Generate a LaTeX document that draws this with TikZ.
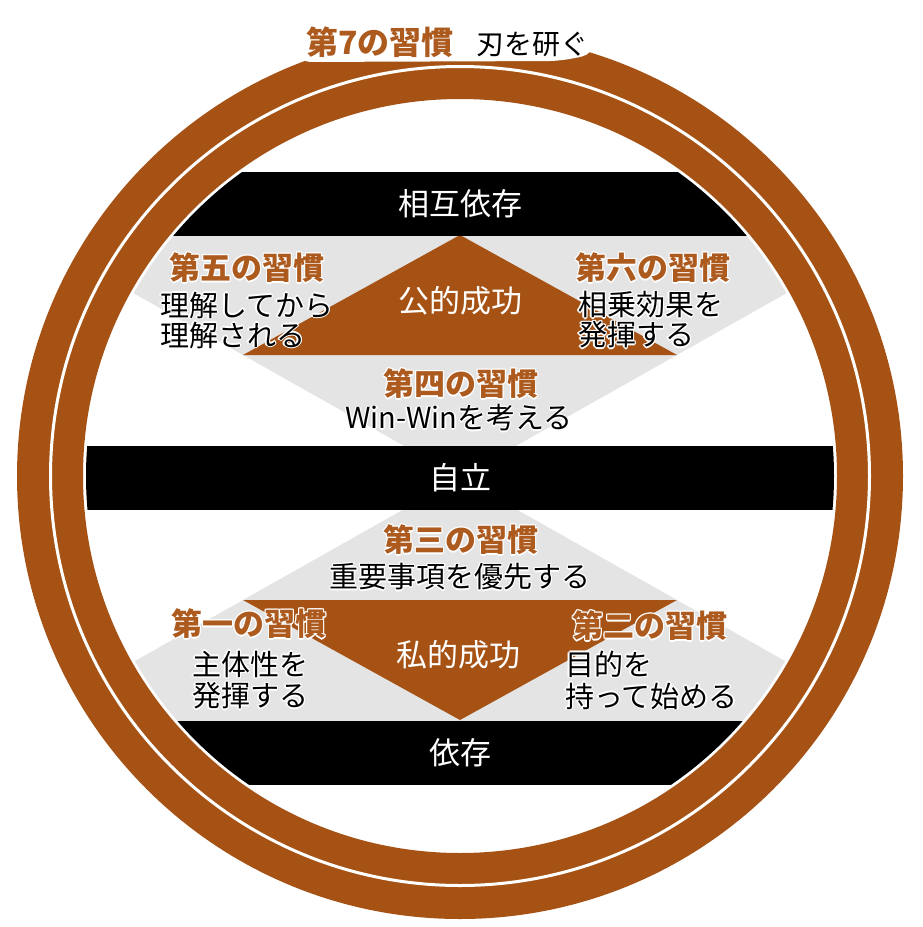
\documentclass[tikz,border=0pt]{standalone}
\usepackage{fontspec}
\usepackage{xcolor}
\usepackage{tikz}
\usetikzlibrary{calc}
\newfontfamily\jp{Noto Sans CJK JP}
\definecolor{ringbrown}{RGB}{165,82,20}
\definecolor{habitbrown}{RGB}{172,90,30}
\definecolor{fieldgray}{RGB}{228,228,228}
\newdimen\halow
\newcommand\hh[3]{\rlap{\kern#1\raisebox{#2}{\color{white}#3}}}
\newcommand\halo[2][1.4pt]{\leavevmode\halow=#1\relax
  \hh{\halow}{0pt}{#2}\hh{-\halow}{0pt}{#2}\hh{0pt}{\halow}{#2}\hh{0pt}{-\halow}{#2}%
  \hh{.7\halow}{.7\halow}{#2}\hh{-.7\halow}{.7\halow}{#2}%
  \hh{.7\halow}{-.7\halow}{#2}\hh{-.7\halow}{-.7\halow}{#2}#2}

\begin{document}
\begin{tikzpicture}[x=1pt,y=-1pt,
    band/.style={fill=black,text=white,minimum width=922pt,minimum height=64pt,inner sep=0pt,font=\jp\fontsize{31}{36}\selectfont},
    success/.style={text=white,inner sep=0pt,font=\jp\fontsize{31}{36}\selectfont},
    habit/.style={text=habitbrown,inner sep=0pt,font=\jp\bfseries\fontsize{31}{36}\selectfont},
    note/.style={text=black,inner sep=0pt,font=\jp\fontsize{29}{34}\selectfont}]
    \useasboundingbox (0,0) rectangle (922,927);
    %
    \coordinate (c) at (460,476);
    \coordinate (mid) at (460,477.5);
    \coordinate (ubl) at (243,355);
    \coordinate (ubr) at (677,355);
    \coordinate (utop) at (460,235);
    \coordinate (lbl) at (243,600);
    \coordinate (lbr) at (677,600);
    \coordinate (lbot) at (460,720);
    %
    \fill[ringbrown,even odd rule] (c) circle (443) (c) circle (377);
    \draw[white,line width=3pt] (c) circle (409.5);
    %
    \begin{scope}
    \clip (c) circle (374);
    \fill[fieldgray] ($(mid)!2.2!(ubl)$) -- ($(mid)!2.2!(ubr)$) -- (mid) -- cycle;
    \fill[fieldgray] ($(mid)!2.2!(lbl)$) -- ($(mid)!2.2!(lbr)$) -- (mid) -- cycle;
    \fill[ringbrown] (ubl) -- (ubr) -- (utop) -- cycle;
    \fill[ringbrown] (lbl) -- (lbr) -- (lbot) -- cycle;
    \node[band] (interdep) at (460,203.5) {相互依存};
    \node[band] (indep) at (460,477.5) {自立};
    \node[band] (dep) at (460,752.5) {依存};
    \end{scope}
    %
    \fill[white,rounded corners=12pt] (298,16) -- (594,16) -- (594,54) -- (560,61) -- (298,62) -- cycle;
    \node[habit,font=\jp\bfseries\fontsize{32}{36}\selectfont] (h7) at (380,42) {\halo[2pt]{第7の習慣}};
    \node[note,font=\jp\fontsize{28}{34}\selectfont] (h7a) at (532,44) {\halo[2pt]{刃を研ぐ}};
    %
    \node[success] (public) at (460,301) {公的成功};
    \node[habit] (h5) at (247,268) {\halo{第五の習慣}};
    \node[note,anchor=west] (h5a) at (160,305) {\halo{理解してから}};
    \node[note,anchor=west] (h5b) at (160,335) {\halo{理解される}};
    \node[habit] (h6) at (653,268) {\halo{第六の習慣}};
    \node[note,anchor=west] (h6a) at (578,305) {\halo{相乗効果を}};
    \node[note,anchor=west] (h6b) at (578,335) {\halo{発揮する}};
    \node[habit] (h4) at (461,384) {\halo{第四の習慣}};
    \node[note] (h4a) at (459,418) {\halo{Win-Winを考える}};
    %
    \node[habit] (h3) at (461,540) {\halo{第三の習慣}};
    \node[note] (h3a) at (460,577) {\halo{重要事項を優先する}};
    \node[success] (private) at (458,655) {私的成功};
    \node[habit] (h1) at (249,624) {\halo{第一の習慣}};
    \node[note,anchor=west] (h1a) at (192,664) {\halo{主体性を}};
    \node[note,anchor=west] (h1b) at (192,696) {\halo{発揮する}};
    \node[habit] (h2) at (650,626) {\halo{第二の習慣}};
    \node[note,anchor=west] (h2a) at (565,664) {\halo{目的を}};
    \node[note,anchor=west] (h2b) at (565,696) {\halo{持って始める}};
    %
\end{tikzpicture}
\end{document}
